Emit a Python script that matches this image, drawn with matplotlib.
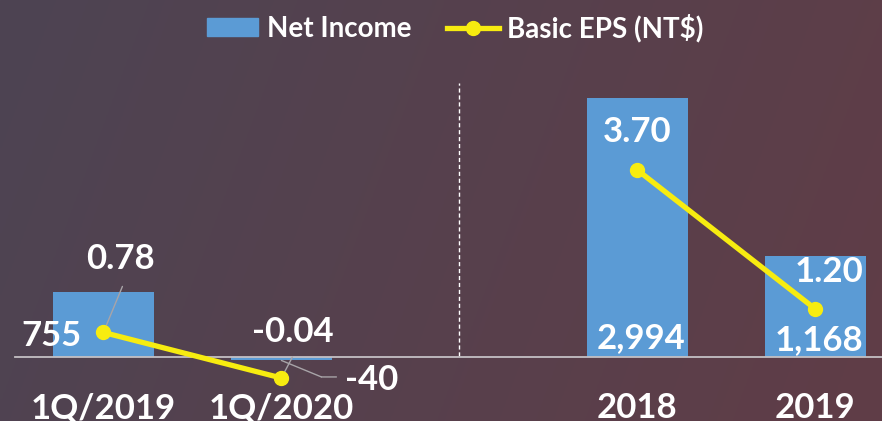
import numpy as np
import matplotlib
matplotlib.use('Agg')
import matplotlib.pyplot as plt
from matplotlib.lines import Line2D
from matplotlib.patches import Patch
from matplotlib.transforms import offset_copy

plt.rcParams['font.family'] = ['Lato', 'DejaVu Sans']
plt.rcParams['font.weight'] = 'bold'

categories = ['1Q/2019', '1Q/2020', '2018', '2019']
positions = [0, 1, 3, 4]
net_income = [755, -40, 2994, 1168]
eps = [0.78, -0.04, 3.70, 1.20]
income_labels = ['755', '-40', '2,994', '1,168']
eps_labels = ['0.78', '-0.04', '3.70', '1.20']

bar_color = '#5B9BD5'
line_color = '#F7EC10'
lead_color = '#A8A4A8'

fig = plt.figure(figsize=(8.82, 4.21), dpi=100)

# background gradient
bg = fig.add_axes([0, 0, 1, 1], zorder=-5)
gx, gy = np.meshgrid(np.linspace(0, 1, 300), np.linspace(0, 1, 150))
t = np.clip(0.85 * gx + 0.15 * gy, 0, 1)[..., None]
c0 = np.array([77, 68, 83]) / 255
c1 = np.array([96, 61, 71]) / 255
bg.imshow(c0 * (1 - t) + c1 * t, aspect='auto', extent=[0, 1, 0, 1], origin='upper')
bg.axis('off')

ax = fig.add_axes([0, 0, 1, 1])
ax.patch.set_alpha(0)
ax.set_xlim(-0.581, 4.374)
ax.set_ylim(-740, 4127)
ax.axis('off')

ax.bar(positions, net_income, width=0.57, color=bar_color, zorder=2)
ax.axhline(0, xmin=15 / 882, xmax=1, color='#C4C0C4', lw=1.3, zorder=3)
ax.axvline(2, ymin=65 / 421, ymax=338 / 421, color='white', lw=1.0,
           ls=(0, (3, 2)), zorder=1)

ax2 = ax.twinx()
ax2.set_ylim(-0.813, 6.759)
ax2.axis('off')
# two separate segments: quarters and years
ax2.plot(positions[:2], eps[:2], color=line_color, lw=3.8, marker='o',
         markersize=10, zorder=4)
ax2.plot(positions[2:], eps[2:], color=line_color, lw=3.8, marker='o',
         markersize=10, zorder=4)

tk = dict(color='white', fontsize=25, fontweight='bold')

# net income labels (offsets in pixels from bar base)
inc_off = [(-22, 11, 'right'), (90, -33, 'center'), (4, 9, 'center'), (4, 7, 'center')]
for p, lab, (dx, dy, ha) in zip(positions, income_labels, inc_off):
    ax2.annotate(lab, xy=(p, 0), xycoords=ax.transData, xytext=(dx, dy),
                 textcoords='offset pixels', ha=ha, va='baseline', zorder=6, **tk)

# eps labels
eps_off = [(17, 63), (11, 36), (0, 28), (14, 27)]
for p, v, lab, (dx, dy) in zip(positions, eps, eps_labels, eps_off):
    ax2.annotate(lab, xy=(p, v), xytext=(dx, dy), textcoords='offset pixels',
                 ha='center', va='baseline', zorder=6, **tk)

# leader lines
lead = dict(arrowstyle='-', color=lead_color, lw=1.0, shrinkA=0, shrinkB=0)
ax2.annotate('', xy=(positions[0], eps[0]), xytext=(19, 46),
             textcoords='offset pixels', arrowprops=lead)
ax2.annotate('', xy=(positions[1], eps[1]), xytext=(11, 21),
             textcoords='offset pixels', arrowprops=lead)
ax.annotate('', xy=(positions[1], net_income[1]), xytext=(40, -16.5),
            textcoords='offset pixels', arrowprops=lead)
bend = offset_copy(ax.transData, fig=fig, x=40, y=-16.5, units='dots')
ax.annotate('', xy=(positions[1], net_income[1]), xycoords=bend,
            xytext=(15, 0), textcoords='offset pixels', arrowprops=lead)

# category labels
for p, c in zip(positions, categories):
    ax.text(p, 0.007, c, transform=ax.get_xaxis_transform(), ha='center',
            va='baseline', **tk)

handles = [Patch(color=bar_color),
           Line2D([], [], color=line_color, lw=3.8, marker='o', markersize=10)]
leg = fig.legend(handles, ['Net Income', 'Basic EPS (NT$)'], loc='center',
                 bbox_to_anchor=(455 / 882, 1 - 28 / 421), ncol=2, frameon=False,
                 fontsize=20, handlelength=1.85, handleheight=0.62,
                 handletextpad=0.3, columnspacing=1.3, borderpad=0)
for txt in leg.get_texts():
    txt.set_color('white')
    txt.set_fontweight('bold')

fig.savefig('out.png', dpi=100)
